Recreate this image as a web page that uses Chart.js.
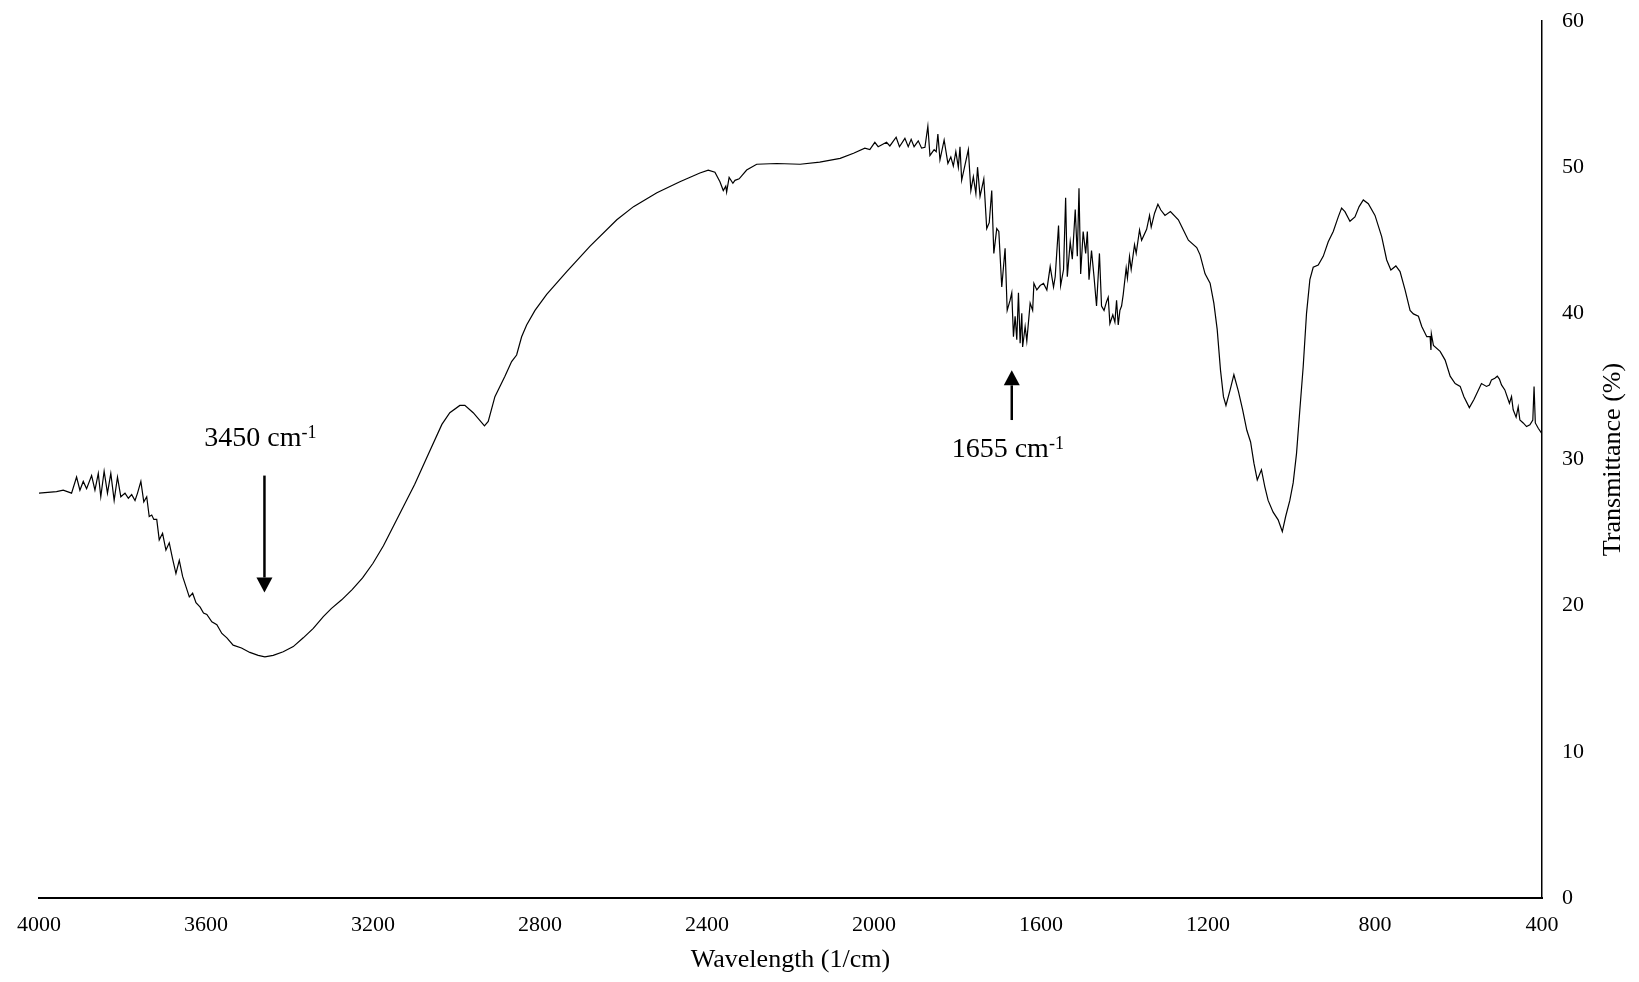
<!DOCTYPE html>
<html>
<head>
<meta charset="utf-8">
<title>FTIR spectrum</title>
<script src="https://cdn.jsdelivr.net/npm/chart.js@4.4.1/dist/chart.umd.min.js"></script>
<style>
  body { margin: 0; background: #fff; }
  #wrap { width: 1639px; height: 982px; }
</style>
</head>
<body>
<div id="wrap"><canvas id="myChart" width="1639" height="982"></canvas></div>
<script>
// wavenumber (1/cm) from left to right
var wavenumbers = [
  4000, 3958, 3942, 3922, 3910, 3902, 3894, 3886, 3874, 3866, 3858, 3852, 3844, 3836, 3828, 3820,
  3812, 3804, 3794, 3786, 3778, 3770, 3764, 3756, 3749, 3742, 3736, 3730, 3725, 3718, 3712, 3704,
  3696, 3688, 3680, 3672, 3664, 3656, 3648, 3640, 3632, 3624, 3614, 3606, 3598, 3586, 3574, 3562,
  3550, 3535, 3515, 3495, 3475, 3459, 3439, 3415, 3391, 3367, 3343, 3319, 3300, 3275, 3250, 3225,
  3200, 3175, 3150, 3125, 3100, 3067, 3035, 3016, 2992, 2980, 2960, 2933, 2924, 2908, 2884, 2868,
  2856, 2844, 2832, 2812, 2784, 2736, 2680, 2616, 2576, 2520, 2465, 2417, 2397, 2381, 2369, 2361,
  2355, 2353, 2347, 2338, 2333, 2323, 2305, 2281, 2233, 2177, 2130, 2081, 2049, 2022, 2010, 1998,
  1990, 1970, 1962, 1947, 1939, 1926, 1918, 1911, 1904, 1894, 1886, 1878, 1871, 1866, 1856, 1851,
  1847, 1842, 1832, 1823, 1816, 1810, 1804, 1798, 1794, 1790, 1782, 1774, 1768, 1762, 1756, 1752,
  1746, 1737, 1730, 1724, 1718, 1713, 1706, 1701, 1694, 1686, 1681, 1674, 1670, 1666, 1662, 1658,
  1654, 1650, 1646, 1644, 1638, 1634, 1626, 1620, 1617, 1610, 1602, 1594, 1586, 1578, 1570, 1566,
  1558, 1553, 1546, 1541, 1537, 1530, 1525, 1518, 1513, 1509, 1505, 1499, 1493, 1489, 1485, 1479,
  1473, 1467, 1460, 1455, 1449, 1443, 1439, 1435, 1428, 1423, 1419, 1415, 1411, 1407, 1403, 1396,
  1393, 1388, 1384, 1376, 1372, 1364, 1359, 1347, 1340, 1336, 1328, 1320, 1313, 1303, 1290, 1271,
  1259, 1247, 1227, 1219, 1207, 1195, 1186, 1178, 1170, 1163, 1157, 1147, 1138, 1127, 1117, 1107,
  1098, 1090, 1082, 1072, 1064, 1056, 1044, 1032, 1022, 1014, 1004, 996, 988, 980, 972, 964,
  956, 948, 936, 924, 912, 900, 888, 880, 872, 860, 848, 838, 828, 816, 800, 784,
  772, 762, 750, 740, 728, 716, 708, 696, 688, 676, 668, 666, 665, 660, 644, 632,
  620, 608, 596, 587, 574, 563, 545, 533, 526, 521, 513, 507, 502, 497, 489, 478,
  473, 469, 462, 457, 453, 445, 437, 429, 422, 419, 416, 409, 401
];

// transmittance (%)
var transmittance = [
  27.7, 27.8, 27.9, 27.7, 28.8, 27.9, 28.5, 28.0, 28.9, 27.9, 29.05, 27.45, 29.2, 27.7, 29.05, 27.2,
  28.8, 27.45, 27.7, 27.35, 27.6, 27.2, 27.7, 28.5, 27.1, 27.45, 26.1, 26.2, 25.9, 25.9, 24.5, 24.95,
  23.8, 24.3, 23.2, 22.2, 23.1, 22.0, 21.3, 20.6, 20.85, 20.2, 19.9, 19.5, 19.4, 18.9, 18.7, 18.1,
  17.8, 17.3, 17.1, 16.8, 16.6, 16.5, 16.6, 16.85, 17.2, 17.8, 18.45, 19.25, 19.8, 20.4, 21.1, 21.9,
  22.9, 24.1, 25.5, 26.9, 28.3, 30.4, 32.4, 33.2, 33.7, 33.7, 33.2, 32.3, 32.6, 34.3, 35.7, 36.7,
  37.15, 38.4, 39.2, 40.2, 41.3, 42.85, 44.6, 46.4, 47.3, 48.25, 49.0, 49.6, 49.8, 49.65, 49.0, 48.4,
  48.7, 48.3, 49.3, 48.9, 49.1, 49.2, 49.8, 50.2, 50.25, 50.2, 50.35, 50.6, 50.95, 51.3, 51.2, 51.7,
  51.4, 51.7, 51.45, 52.05, 51.4, 51.97, 51.4, 51.9, 51.4, 51.8, 51.3, 51.36, 52.8, 50.8, 51.2, 51.06,
  52.27, 50.5, 51.86, 50.26, 50.7, 50.08, 51.06, 50.0, 51.4, 49.1, 50.15, 51.2, 48.4, 49.35, 48.2, 50.0,
  48.0, 49.2, 45.8, 46.2, 48.4, 44.1, 45.8, 45.6, 41.8, 44.45, 40.2, 40.9, 41.4, 38.4, 39.8, 38.2,
  41.4, 37.95, 40.0, 37.7, 39.1, 38.1, 40.7, 40.2, 42.05, 41.6, 41.9, 42.05, 41.6, 43.2, 41.8, 42.5,
  46.0, 41.9, 43.0, 47.9, 42.5, 44.9, 43.7, 47.1, 43.9, 48.55, 42.7, 45.6, 44.1, 45.6, 42.3, 44.3,
  42.5, 40.5, 44.1, 40.5, 40.2, 40.8, 41.1, 39.3, 39.9, 39.4, 40.9, 39.2, 40.2, 40.5, 41.3, 43.1,
  42.4, 43.9, 43.0, 44.7, 44.1, 45.7, 45.0, 45.75, 46.7, 45.9, 46.85, 47.46, 47.07, 46.7, 46.96, 46.4,
  45.7, 45.0, 44.5, 44.0, 42.7, 42.06, 40.7, 38.9, 36.1, 34.3, 33.7, 34.76, 35.8, 34.65, 33.4, 32.0,
  31.2, 29.75, 28.6, 29.3, 28.15, 27.2, 26.4, 25.87, 25.07, 26.1, 27.2, 28.4, 30.4, 33.4, 36.35, 40.0,
  42.3, 43.15, 43.3, 43.9, 44.9, 45.6, 46.6, 47.2, 46.96, 46.3, 46.6, 47.3, 47.76, 47.5, 46.7, 45.25,
  43.65, 42.97, 43.24, 42.86, 41.6, 40.2, 39.96, 39.8, 39.1, 38.4, 38.4, 37.5, 38.6, 37.8, 37.4, 36.8,
  35.7, 35.2, 35.0, 34.3, 33.55, 34.1, 35.2, 35.0, 35.1, 35.45, 35.56, 35.7, 35.5, 35.1, 34.76, 33.85,
  34.3, 33.4, 32.9, 33.6, 32.7, 32.5, 32.25, 32.37, 32.7, 35.0, 32.5, 32.14, 31.8
];

var xTickValues = [4000, 3600, 3200, 2800, 2400, 2000, 1600, 1200, 800, 400];
var yTickValues = [0, 10, 20, 30, 40, 50, 60];

// peak markers: arrow at a wavenumber, from tail to tip (in %), label baseline (in %)
var peaks = [
  { label: '3450', at: 3460, tail: 28.9, tip: 20.9, textAt: 30.9 },
  { label: '1655', at: 1670, tail: 32.7, tip: 36.1, textAt: 30.2 }
];

var serif = "'Liberation Serif', 'Times New Roman', serif";
Chart.defaults.font.family = serif;
Chart.defaults.color = '#000';

var points = wavenumbers.map(function (w, i) { return { x: w, y: transmittance[i] }; });

var annotate = {
  id: 'annotate',
  afterDatasetsDraw: function (chart) {
    var ctx = chart.ctx, xs = chart.scales.x, ys = chart.scales.y, area = chart.chartArea;
    ctx.save();
    ctx.fillStyle = '#000';
    ctx.strokeStyle = '#000';
    ctx.lineWidth = 2.5;
    peaks.forEach(function (p) {
      var x = xs.getPixelForValue(p.at);
      var y0 = ys.getPixelForValue(p.tail);
      var y1 = ys.getPixelForValue(p.tip);
      var dir = y1 > y0 ? 1 : -1;
      var head = 15, half = 8;
      ctx.beginPath();
      ctx.moveTo(x, y0);
      ctx.lineTo(x, y1 - dir * head);
      ctx.stroke();
      ctx.beginPath();
      ctx.moveTo(x, y1);
      ctx.lineTo(x - half, y1 - dir * head);
      ctx.lineTo(x + half, y1 - dir * head);
      ctx.closePath();
      ctx.fill();

      var main = p.label + ' cm';
      ctx.textAlign = 'left';
      ctx.textBaseline = 'alphabetic';
      ctx.font = '28px ' + serif;
      var w1 = ctx.measureText(main).width;
      ctx.font = '18px ' + serif;
      var w2 = ctx.measureText('-1').width;
      var tx = x - (w1 + w2) / 2 - 4;
      var ty = ys.getPixelForValue(p.textAt);
      ctx.font = '28px ' + serif;
      ctx.fillText(main, tx, ty);
      ctx.font = '18px ' + serif;
      ctx.fillText('-1', tx + w1, ty - 8);
    });

    // y axis title, reads bottom to top on the right
    ctx.translate(area.right + 71, (area.top + area.bottom) / 2);
    ctx.rotate(-Math.PI / 2);
    ctx.font = '26px ' + serif;
    ctx.textAlign = 'center';
    ctx.textBaseline = 'middle';
    ctx.fillText('Transmittance (%)', 0, 0);
    ctx.restore();
  }
};

var plain = function (v) { return String(v); };

var ctx = document.getElementById('myChart');
var chart = new Chart(ctx, {
  type: 'line',
  data: {
    datasets: [{
      data: points,
      borderColor: '#000',
      borderWidth: 1.2,
      pointRadius: 0,
      fill: false,
      tension: 0
    }]
  },
  options: {
    responsive: false,
    animation: false,
    layout: { padding: { left: 39, top: 21, right: 0, bottom: 0 } },
    plugins: { legend: { display: false }, tooltip: { enabled: false } },
    scales: {
      x: {
        type: 'linear',
        reverse: true,
        min: 400,
        max: 4000,
        grid: { display: false, drawTicks: false },
        border: { display: true, color: '#000', width: 2 },
        afterBuildTicks: function (s) { s.ticks = xTickValues.map(function (v) { return { value: v }; }); },
        afterFit: function (s) { s.height = 84; s.paddingLeft = 0; s.paddingRight = 0; },
        ticks: { font: { size: 22 }, padding: 14, maxRotation: 0, callback: plain },
        title: { display: true, text: 'Wavelength (1/cm)', font: { size: 26 }, padding: { top: 0, bottom: 6 } }
      },
      y: {
        position: 'right',
        min: 0,
        max: 60,
        grid: { display: false, drawTicks: false },
        border: { display: true, color: '#000', width: 1.5 },
        afterBuildTicks: function (s) { s.ticks = yTickValues.map(function (v) { return { value: v }; }); },
        afterFit: function (s) { s.width = 97; s.paddingTop = 0; s.paddingBottom = 0; },
        ticks: { font: { size: 22 }, padding: 20, callback: plain }
      }
    }
  },
  plugins: [annotate]
});
</script>
</body>
</html>
